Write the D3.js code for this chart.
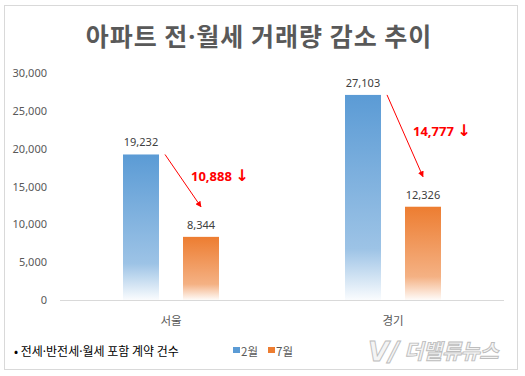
<!DOCTYPE html>
<html><head><meta charset="utf-8">
<script src="https://cdn.jsdelivr.net/npm/d3@7"></script>
<style>body{margin:0;background:#fff;}svg{display:block;font-family:"Noto Sans CJK KR","Malgun Gothic",sans-serif;}</style>
</head><body>
<svg id="c" width="525" height="376"></svg>
<script>
const categories = ["서울", "경기"];
const seriesNames = ["2월", "7월"];
const febValues = [19232, 27103];
const julValues = [8344, 12326];
const decreases = ["10,888", "14,777"];
const yTicks = [0, 5000, 10000, 15000, 20000, 25000, 30000];
const colors = ["#5b9bd5", "#ed7d31"];

const svg = d3.select("#c");
svg.append("rect").attr("x",4.5).attr("y",5.5).attr("width",513).attr("height",364)
  .attr("fill","#fff").attr("stroke","#d9d9d9");

const title = svg.append("text").attr("x",259).attr("y",46).attr("text-anchor","middle")
  .attr("font-size",25).attr("font-weight","bold").attr("fill","#595959").attr("letter-spacing",1);
title.append("tspan").text("아파트 전");
title.append("tspan").attr("font-family","Noto Sans, sans-serif").text("·");
title.append("tspan").text("월세 거래량 감소 추이");

const defs = svg.append("defs");
colors.forEach((c,i)=>{
  const g = defs.append("linearGradient").attr("id","g"+i).attr("x1",0).attr("x2",0).attr("y1",0).attr("y2",1);
  g.append("stop").attr("offset","0%").attr("stop-color",c);
  g.append("stop").attr("offset","75%").attr("stop-color",c).attr("stop-opacity",0.6);
  g.append("stop").attr("offset","100%").attr("stop-color",c).attr("stop-opacity",0.03);
});
const m = defs.append("marker").attr("id","ah").attr("viewBox","0 0 10 10").attr("refX",9).attr("refY",5)
  .attr("markerWidth",6).attr("markerHeight",6).attr("orient","auto");
m.append("path").attr("d","M0,0L10,5L0,10z").attr("fill","#ff0000");

const x = d3.scaleBand().domain(categories).range([60,504]);
const y = d3.scaleLinear().domain([0,30000]).range([300,73]);
const inner = d3.scaleBand().domain(seriesNames).range([0,x.bandwidth()]).paddingInner(0.4).paddingOuter(1.05);

const yAxis = svg.append("g").attr("transform","translate(47,0)")
  .call(d3.axisLeft(y).tickValues(yTicks).tickFormat(d3.format(",")).tickSize(0).tickPadding(0));
yAxis.select(".domain").remove();
yAxis.selectAll("text").attr("font-size",11).attr("fill","#595959").attr("font-family","Noto Sans, sans-serif");

svg.append("line").attr("x1",60).attr("x2",504).attr("y1",y(0)+0.5).attr("y2",y(0)+0.5).attr("stroke","#d9d9d9");

const data = categories.map((c,i)=>({cat:c, vals:[febValues[i], julValues[i]], dec:decreases[i]}));
const fmt = d3.format(",");
data.forEach(d=>{
  const g = svg.append("g");
  d.vals.forEach((v,j)=>{
    const bx = x(d.cat)+inner(seriesNames[j]);
    g.append("rect").attr("x",bx).attr("y",y(v)).attr("width",inner.bandwidth()).attr("height",y(0)-y(v))
      .attr("fill","url(#g"+j+")");
    g.append("text").attr("x",bx+inner.bandwidth()/2).attr("y",y(v)-8).attr("text-anchor","middle")
      .attr("font-size",11).attr("fill","#404040").attr("font-family","Noto Sans, sans-serif").text(fmt(v));
  });
  const bx0 = x(d.cat)+inner(seriesNames[0])+inner.bandwidth();
  const bx1 = x(d.cat)+inner(seriesNames[1])+inner.bandwidth()/2;
  g.append("line").attr("x1",bx0+6).attr("y1",y(d.vals[0])).attr("x2",bx1).attr("y2",y(d.vals[1])-30)
    .attr("stroke","#ff0000").attr("stroke-width",1).attr("marker-end","url(#ah)");
  const t = g.append("text").attr("x",bx1-10).attr("y",(y(d.vals[0])+y(d.vals[1]))/2-15)
    .attr("font-size",13).attr("font-weight","bold").attr("fill","#ff0000").attr("font-family","Noto Sans, sans-serif");
  t.append("tspan").text(d.dec+" ");
  t.append("tspan").attr("font-family","DejaVu Sans, sans-serif").attr("font-size",16).text("↓");
  g.append("text").attr("x",x(d.cat)+x.bandwidth()/2).attr("y",325).attr("text-anchor","middle")
    .attr("font-size",11.5).attr("fill","#595959").text(d.cat);
});

const note = svg.append("text").attr("x",14).attr("y",356).attr("font-size",12).attr("fill","#000");
["• 전세","·","반전세","·","월세 포함 계약 건수"].forEach(s=>{
  const ts = note.append("tspan").text(s);
  if (s==="·") ts.attr("font-family","Noto Sans, sans-serif");
});
seriesNames.forEach((s,i)=>{
  const lx = 233 + i*35;
  svg.append("rect").attr("x",lx).attr("y",347).attr("width",7).attr("height",6).attr("fill",colors[i]);
  svg.append("text").attr("x",lx+8).attr("y",356).attr("font-size",11.5).attr("fill","#595959").text(s);
});

svg.append("text").attr("x",404).attr("y",359).attr("font-size",21).attr("font-weight","bold").attr("font-style","italic")
  .attr("fill","#f4f4f4").attr("stroke","#bdbdbd").attr("stroke-width",0.9).attr("letter-spacing",-0.5).text("더밸류뉴스");
svg.append("text").attr("x",368).attr("y",361).attr("font-size",27).attr("font-weight","bold").attr("font-style","italic")
  .attr("fill","#f4f4f4").attr("stroke","#bdbdbd").attr("stroke-width",0.9).attr("font-family","DejaVu Sans, sans-serif").text("V/");
</script>
</body></html>
